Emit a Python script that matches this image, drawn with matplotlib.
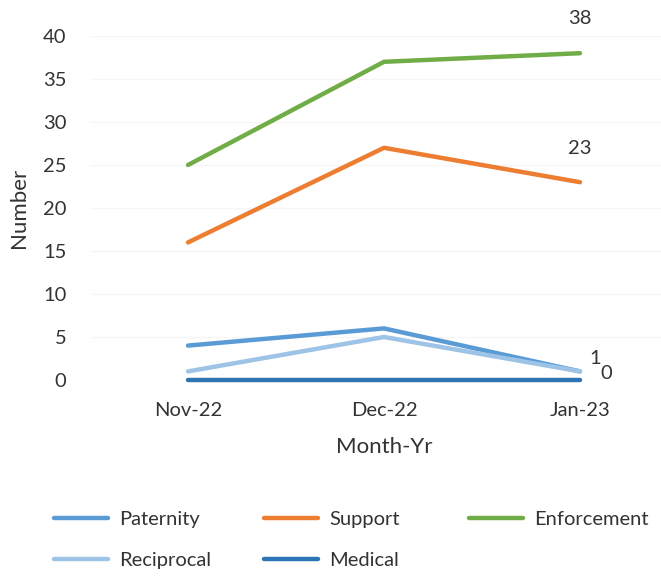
import numpy as np
import matplotlib
matplotlib.use("Agg")
import matplotlib.pyplot as plt

months = ["Nov-22", "Dec-22", "Jan-23"]
paternity = [4, 6, 1]
support = [16, 27, 23]
enforcement = [25, 37, 38]
reciprocal = [1, 5, 1]
medical = [0, 0, 0]

plt.rcParams['font.family'] = ['Lato', 'DejaVu Sans']
txt = '#333333'
W, H = 661, 576

fig = plt.figure(figsize=(6.61, 5.76), dpi=100)
ax = fig.add_axes([90/W, 1 - 380/H, 588/W, 344/H])

x = np.arange(len(months))
series = [
    ("Paternity", paternity, '#5b9bd5'),
    ("Support", support, '#ed7d31'),
    ("Enforcement", enforcement, '#70ad47'),
    ("Reciprocal", reciprocal, '#9dc3e6'),
    ("Medical", medical, '#2e75b6'),
]
handles = {}
for name, vals, col in series:
    h, = ax.plot(x, vals, color=col, lw=3.2, solid_capstyle='round', clip_on=False)
    handles[name] = h

ax.set_xlim(-0.5, 2.5)
ax.set_ylim(0, 40)
ax.set_yticks(np.arange(0, 41, 5))
ax.set_xticks(x)
ax.set_xticklabels(months)
ax.tick_params(length=0, labelsize=14.5, colors=txt)
ax.tick_params(axis='x', pad=16)
ax.tick_params(axis='y', pad=17)
for s in ax.spines.values():
    s.set_visible(False)
ax.grid(axis='y', color='#f6f6f6', lw=1)
ax.set_axisbelow(True)

ax.set_ylabel("Number", fontsize=16, color=txt, labelpad=10)
ax.set_xlabel("Month-Yr", fontsize=16, color=txt, labelpad=13)

# data labels at the last point
lab = dict(textcoords='offset points', ha='center', va='center', fontsize=14.5, color=txt)
ax.annotate(str(enforcement[-1]), (x[-1], enforcement[-1]), xytext=(0, 25), **lab)
ax.annotate(str(support[-1]), (x[-1], support[-1]), xytext=(0, 24), **lab)
ax.annotate(str(paternity[-1]), (x[-1], paternity[-1]), xytext=(11, 9), **lab)
ax.annotate(str(medical[-1]), (x[-1], medical[-1]), xytext=(19, 5), **lab)

# legend: one column per legend so the columns sit where they do in the original
cols = [(["Paternity", "Reciprocal"], 44), (["Support", "Medical"], 254), (["Enforcement"], 459)]
for names, xl in cols:
    leg = fig.legend([handles[n] for n in names], names, loc='upper left',
                     bbox_to_anchor=(xl/W, 1 - 501/H), frameon=False,
                     fontsize=14.5, handlelength=2.7, handletextpad=0.55,
                     labelspacing=1.2, borderpad=0)
    for t in leg.get_texts():
        t.set_color(txt)

fig.savefig("out.png", dpi=100)
